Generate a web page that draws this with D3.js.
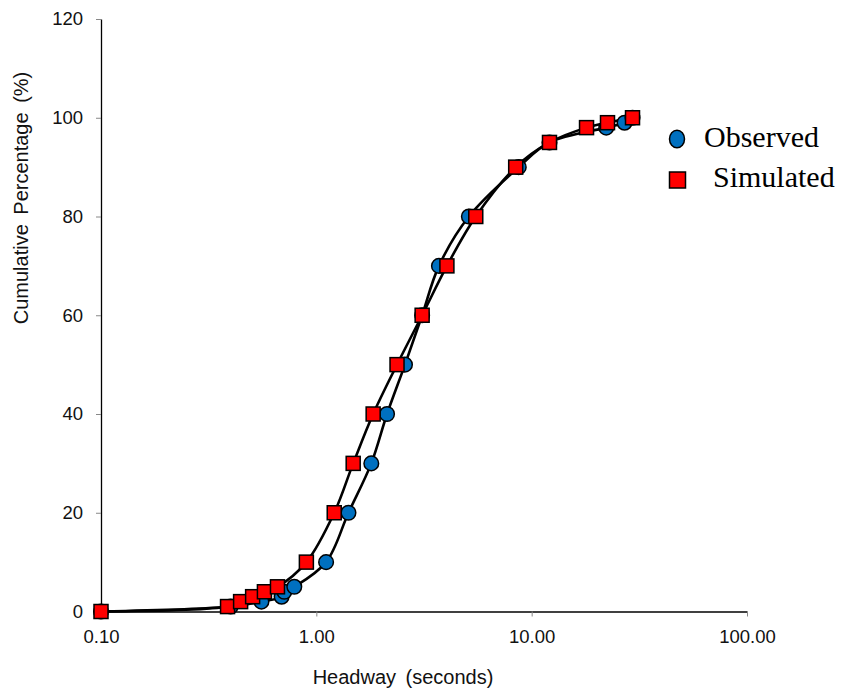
<!DOCTYPE html>
<html>
<head>
<meta charset="utf-8">
<script src="https://cdn.jsdelivr.net/npm/d3@7"></script>
<style>
  html, body { margin: 0; padding: 0; background: #fff; }
  svg { display: block; }
</style>
</head>
<body>
<svg id="chart" width="845" height="692"></svg>
<script>
// ---- Data ----
const percentages = [0, 1, 2, 3, 4, 5, 10, 20, 30, 40, 50, 60, 70, 80, 90, 95, 98, 99, 100];
const observedHeadway = [0.10, 0.40, 0.556, 0.69, 0.71, 0.79, 1.11, 1.41, 1.80, 2.13, 2.58, 3.10, 3.71, 5.11, 8.71, 12.1, 22.2, 27.0, 29.4];
const simulatedHeadway = [0.10, 0.387, 0.445, 0.506, 0.574, 0.660, 0.899, 1.211, 1.483, 1.836, 2.37, 3.10, 4.04, 5.50, 8.43, 12.1, 17.98, 22.5, 29.4];
const xTicks = [0.1, 1, 10, 100];
const yTicks = [0, 20, 40, 60, 80, 100, 120];
const seriesNames = ["Observed", "Simulated"];

const observed = observedHeadway.map((h, i) => ({ x: h, y: percentages[i] }));
const simulated = simulatedHeadway.map((h, i) => ({ x: h, y: percentages[i] }));

const svg = d3.select("#chart");

const x = d3.scaleLog().domain([0.1, 100]).range([101, 747]);
const y = d3.scaleLinear().domain([0, 120]).range([611.5, 19]);

// Axes
const xAxis = svg.append("g")
  .attr("transform", "translate(0,611.5)")
  .call(d3.axisBottom(x).tickValues(xTicks).tickFormat(d3.format(".2f"))
        .tickSize(5).tickSizeOuter(0).tickPadding(13));
const yAxis = svg.append("g")
  .attr("transform", "translate(101,0)")
  .call(d3.axisLeft(y).tickValues(yTicks).tickFormat(d3.format("d"))
        .tickSize(5).tickSizeOuter(0).tickPadding(13));

[xAxis, yAxis].forEach(g => {
  g.select(".domain").attr("stroke", "#000").attr("stroke-width", 1.3);
  g.selectAll(".tick line").attr("stroke", "#888").attr("stroke-width", 1);
  g.selectAll(".tick text")
    .attr("fill", "#111")
    .style("font-family", "'Liberation Sans', Arial, sans-serif")
    .style("font-size", "18.5px");
});

// Axis titles
svg.append("text")
  .attr("x", 403).attr("y", 684)
  .attr("text-anchor", "middle")
  .style("font-family", "'Liberation Sans', Arial, sans-serif")
  .style("font-size", "20px")
  .style("word-spacing", "4px")
  .attr("fill", "#111")
  .text("Headway (seconds)");

svg.append("text")
  .attr("transform", "translate(28,198) rotate(-90)")
  .attr("text-anchor", "middle")
  .style("font-family", "'Liberation Sans', Arial, sans-serif")
  .style("font-size", "20px")
  .style("word-spacing", "4px")
  .attr("fill", "#111")
  .text("Cumulative Percentage (%)");

// Lines
const line = d3.line()
  .x(d => x(d.x)).y(d => y(d.y))
  .curve(d3.curveCatmullRom.alpha(0.5));

svg.append("path").datum(observed)
  .attr("d", line).attr("fill", "none")
  .attr("stroke", "#000").attr("stroke-width", 2.6);
svg.append("path").datum(simulated)
  .attr("d", line).attr("fill", "none")
  .attr("stroke", "#000").attr("stroke-width", 2.6);

// Markers
svg.append("g").selectAll("circle").data(observed).join("circle")
  .attr("cx", d => x(d.x)).attr("cy", d => y(d.y)).attr("r", 7.3)
  .attr("fill", "#0070C0").attr("stroke", "#000").attr("stroke-width", 1.5);

const sq = 14;
svg.append("g").selectAll("rect").data(simulated).join("rect")
  .attr("x", d => x(d.x) - sq / 2).attr("y", d => y(d.y) - sq / 2)
  .attr("width", sq).attr("height", sq)
  .attr("fill", "#FF0000").attr("stroke", "#000").attr("stroke-width", 1.5);

// Legend
const legend = svg.append("g");
legend.append("ellipse")
  .attr("cx", 677).attr("cy", 139).attr("rx", 7.5).attr("ry", 8.8)
  .attr("fill", "#0070C0").attr("stroke", "#000").attr("stroke-width", 1.5);
legend.append("rect")
  .attr("x", 669.5).attr("y", 172).attr("width", 16).attr("height", 16)
  .attr("fill", "#FF0000").attr("stroke", "#000").attr("stroke-width", 1.5);
legend.append("text")
  .attr("x", 704).attr("y", 147)
  .style("font-family", "'Liberation Serif', 'Times New Roman', serif")
  .style("font-size", "30px").attr("fill", "#000")
  .text(seriesNames[0]);
legend.append("text")
  .attr("x", 713).attr("y", 187)
  .style("font-family", "'Liberation Serif', 'Times New Roman', serif")
  .style("font-size", "30px").attr("fill", "#000")
  .text(seriesNames[1]);
</script>
</body>
</html>
